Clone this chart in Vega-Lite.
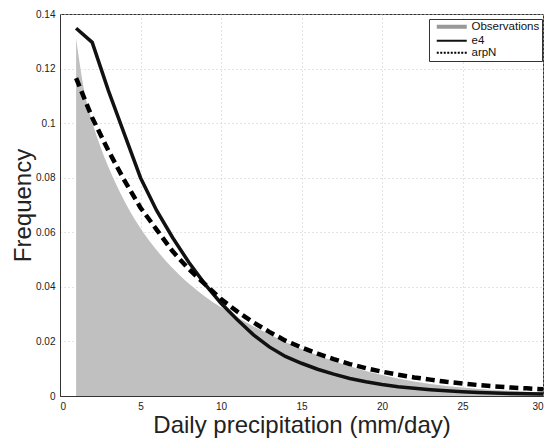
{
  "$schema": "https://vega.github.io/schema/vega-lite/v6.json",
  "width": 483,
  "height": 382,
  "autosize": {"type": "none"},
  "padding": {"left": 60, "top": 14, "right": 7, "bottom": 45},
  "background": "white",
  "config": {
    "font": "Liberation Sans",
    "view": {"stroke": "#333", "strokeWidth": 1},
    "axis": {
      "labelFont": "Liberation Sans", "labelFontSize": 10, "labelColor": "#222",
      "titleFont": "Liberation Sans", "titleFontSize": 24, "titleFontWeight": "normal", "titleColor": "#222",
      "domainColor": "#333", "ticks": false, "labelPadding": 5,
      "gridColor": "#c8c8c8", "gridDash": [1, 3], "gridWidth": 1
    },
    "legend": {
      "labelFont": "Liberation Sans", "labelFontSize": 11.5, "labelColor": "#111"
    }
  },
  "data": {
    "values": [
      {"series": "Observations", "x": 1, "y": 0.131},
      {"series": "Observations", "x": 1.5, "y": 0.112},
      {"series": "Observations", "x": 2, "y": 0.1005},
      {"series": "Observations", "x": 2.5, "y": 0.0915},
      {"series": "Observations", "x": 3, "y": 0.084},
      {"series": "Observations", "x": 4, "y": 0.0715},
      {"series": "Observations", "x": 5, "y": 0.0615},
      {"series": "Observations", "x": 6, "y": 0.0535},
      {"series": "Observations", "x": 7, "y": 0.0468},
      {"series": "Observations", "x": 8, "y": 0.0412},
      {"series": "Observations", "x": 9, "y": 0.0365},
      {"series": "Observations", "x": 10, "y": 0.0325},
      {"series": "Observations", "x": 11, "y": 0.0289},
      {"series": "Observations", "x": 12, "y": 0.0256},
      {"series": "Observations", "x": 13, "y": 0.0226},
      {"series": "Observations", "x": 14, "y": 0.0198},
      {"series": "Observations", "x": 15, "y": 0.0172},
      {"series": "Observations", "x": 16, "y": 0.0149},
      {"series": "Observations", "x": 17, "y": 0.0128},
      {"series": "Observations", "x": 18, "y": 0.0109},
      {"series": "Observations", "x": 19, "y": 0.0092},
      {"series": "Observations", "x": 20, "y": 0.0077},
      {"series": "Observations", "x": 21, "y": 0.0064},
      {"series": "Observations", "x": 22, "y": 0.0053},
      {"series": "Observations", "x": 23, "y": 0.0044},
      {"series": "Observations", "x": 24, "y": 0.0037},
      {"series": "Observations", "x": 25, "y": 0.0031},
      {"series": "Observations", "x": 26, "y": 0.0026},
      {"series": "Observations", "x": 27, "y": 0.0022},
      {"series": "Observations", "x": 28, "y": 0.0019},
      {"series": "Observations", "x": 29, "y": 0.0016},
      {"series": "Observations", "x": 30, "y": 0.0014},
      {"series": "e4", "x": 1, "y": 0.1348},
      {"series": "e4", "x": 2, "y": 0.1296},
      {"series": "e4", "x": 3, "y": 0.112},
      {"series": "e4", "x": 4, "y": 0.096},
      {"series": "e4", "x": 5, "y": 0.080},
      {"series": "e4", "x": 6, "y": 0.068},
      {"series": "e4", "x": 7, "y": 0.058},
      {"series": "e4", "x": 8, "y": 0.049},
      {"series": "e4", "x": 9, "y": 0.041},
      {"series": "e4", "x": 10, "y": 0.034},
      {"series": "e4", "x": 11, "y": 0.028},
      {"series": "e4", "x": 12, "y": 0.0225},
      {"series": "e4", "x": 13, "y": 0.018},
      {"series": "e4", "x": 14, "y": 0.0145},
      {"series": "e4", "x": 15, "y": 0.012},
      {"series": "e4", "x": 16, "y": 0.0098},
      {"series": "e4", "x": 17, "y": 0.008},
      {"series": "e4", "x": 18, "y": 0.0064},
      {"series": "e4", "x": 19, "y": 0.0052},
      {"series": "e4", "x": 20, "y": 0.0042},
      {"series": "e4", "x": 21, "y": 0.0034},
      {"series": "e4", "x": 22, "y": 0.0028},
      {"series": "e4", "x": 23, "y": 0.0023},
      {"series": "e4", "x": 24, "y": 0.0019},
      {"series": "e4", "x": 25, "y": 0.0016},
      {"series": "e4", "x": 26, "y": 0.0013},
      {"series": "e4", "x": 27, "y": 0.0011},
      {"series": "e4", "x": 28, "y": 0.0009},
      {"series": "e4", "x": 29, "y": 0.0008},
      {"series": "e4", "x": 30, "y": 0.0007},
      {"series": "arpN", "x": 1, "y": 0.1165},
      {"series": "arpN", "x": 2, "y": 0.102},
      {"series": "arpN", "x": 3, "y": 0.090},
      {"series": "arpN", "x": 4, "y": 0.079},
      {"series": "arpN", "x": 5, "y": 0.069},
      {"series": "arpN", "x": 6, "y": 0.061},
      {"series": "arpN", "x": 7, "y": 0.053},
      {"series": "arpN", "x": 8, "y": 0.0465},
      {"series": "arpN", "x": 9, "y": 0.041},
      {"series": "arpN", "x": 10, "y": 0.0355},
      {"series": "arpN", "x": 11, "y": 0.031},
      {"series": "arpN", "x": 12, "y": 0.027},
      {"series": "arpN", "x": 13, "y": 0.0235},
      {"series": "arpN", "x": 14, "y": 0.0203},
      {"series": "arpN", "x": 15, "y": 0.0178},
      {"series": "arpN", "x": 16, "y": 0.0155},
      {"series": "arpN", "x": 17, "y": 0.0135},
      {"series": "arpN", "x": 18, "y": 0.0117},
      {"series": "arpN", "x": 19, "y": 0.0102},
      {"series": "arpN", "x": 20, "y": 0.0089},
      {"series": "arpN", "x": 21, "y": 0.0078},
      {"series": "arpN", "x": 22, "y": 0.0068},
      {"series": "arpN", "x": 23, "y": 0.006},
      {"series": "arpN", "x": 24, "y": 0.0052},
      {"series": "arpN", "x": 25, "y": 0.0046},
      {"series": "arpN", "x": 26, "y": 0.004},
      {"series": "arpN", "x": 27, "y": 0.0035},
      {"series": "arpN", "x": 28, "y": 0.0031},
      {"series": "arpN", "x": 29, "y": 0.0028},
      {"series": "arpN", "x": 30, "y": 0.0025}
    ]
  },
  "encoding": {
    "x": {
      "field": "x", "type": "quantitative",
      "scale": {"domain": [0, 30], "nice": false, "zero": false},
      "axis": {"values": [0, 5, 10, 15, 20, 25, 30], "title": "Daily precipitation (mm/day)", "titlePadding": 2}
    },
    "y": {
      "field": "y", "type": "quantitative",
      "scale": {"domain": [0, 0.14], "nice": false},
      "axis": {"values": [0, 0.02, 0.04, 0.06, 0.08, 0.1, 0.12, 0.14], "format": ".2~f", "title": "Frequency", "titlePadding": 0}
    }
  },
  "layer": [
    {
      "transform": [{"filter": "datum.series === 'Observations'"}],
      "mark": {"type": "area", "color": "#c0c0c0", "interpolate": "monotone"}
    },
    {
      "transform": [{"filter": "datum.series === 'e4'"}],
      "mark": {"type": "line", "strokeWidth": 3.5},
      "encoding": {
        "color": {
          "field": "series", "type": "nominal",
          "scale": {"domain": ["Observations", "e4", "arpN"], "range": ["#999999", "#111111", "#000000"]},
          "legend": {
            "title": null, "orient": "none", "legendX": 369, "legendY": 5,
            "strokeColor": "#333", "fillColor": "white", "padding": 2,
            "symbolType": "stroke", "symbolSize": 900, "symbolOffset": 15,
            "rowPadding": -7.5, "labelOffset": 14,
            "encode": {"symbols": {"update": {
              "strokeWidth": {"signal": "datum.value === 'Observations' ? 4 : 2"},
              "strokeDash": {"signal": "datum.value === 'arpN' ? [2, 1.5] : [1, 0]"}
            }}}
          }
        }
      }
    },
    {
      "transform": [{"filter": "datum.series === 'arpN'"}],
      "mark": {"type": "line", "strokeWidth": 4.5, "strokeDash": [9, 5]},
      "encoding": {
        "color": {"field": "series", "type": "nominal"}
      }
    }
  ]
}
